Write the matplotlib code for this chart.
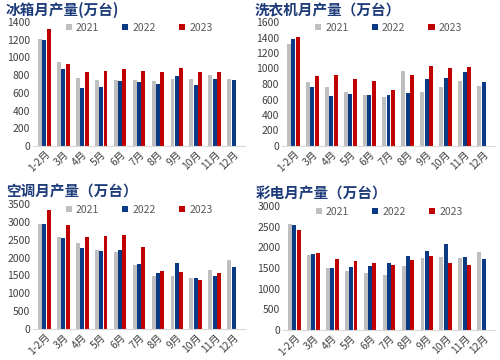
import numpy as np
import matplotlib.pyplot as plt

plt.rcParams['font.family'] = ['Noto Sans CJK SC', 'DejaVu Sans']

months = ['1-2月', '3月', '4月', '5月', '6月', '7月', '8月', '9月', '10月', '11月', '12月']
years = ['2021', '2022', '2023']
colors = ['#BFBFBF', '#0B3A85', '#C00000']

fridge_2021 = [1210, 945, 770, 745, 740, 745, 730, 760, 760, 805, 760]
fridge_2022 = [1195, 865, 655, 665, 735, 725, 700, 795, 690, 760, 740]
fridge_2023 = [1320, 930, 840, 845, 870, 845, 840, 880, 830, 830, np.nan]

washer_2021 = [1315, 830, 765, 700, 660, 630, 970, 695, 765, 840, 780]
washer_2022 = [1375, 760, 645, 675, 660, 655, 690, 870, 880, 950, 830]
washer_2023 = [1405, 900, 915, 870, 835, 725, 915, 1030, 1005, 1020, np.nan]

ac_2021 = [2930, 2580, 2400, 2200, 2150, 1790, 1480, 1490, 1440, 1650, 1940]
ac_2022 = [2930, 2550, 2270, 2180, 2210, 1820, 1580, 1850, 1440, 1490, 1750]
ac_2023 = [3330, 2920, 2580, 2600, 2630, 2300, 1630, 1600, 1360, 1580, np.nan]

tv_2021 = [2570, 1810, 1500, 1430, 1380, 1330, 1550, 1740, 1760, 1750, 1880]
tv_2022 = [2540, 1840, 1500, 1530, 1550, 1630, 1790, 1920, 2090, 1770, 1720]
tv_2023 = [2420, 1860, 1720, 1680, 1610, 1580, 1700, 1790, 1620, 1570, np.nan]

# title, data, y max, y step, axes box in pixels (left, top, width, height)
panels = [
    ('冰箱月产量(万台)', [fridge_2021, fridge_2022, fridge_2023], 1400, 200, [33, 22, 212, 124]),
    ('洗衣机月产量（万台）', [washer_2021, washer_2022, washer_2023], 1600, 200, [282, 22, 213, 124]),
    ('空调月产量（万台）', [ac_2021, ac_2022, ac_2023], 3500, 500, [33, 204, 212, 125]),
    ('彩电月产量（万台）', [tv_2021, tv_2022, tv_2023], 3000, 500, [283, 206, 212, 124]),
]

W, H = 500, 360
fig = plt.figure(figsize=(5, 3.6), dpi=100)

x = np.arange(len(months))
bw = 0.21

for title, series, ymax, step, (l, t, w, h) in panels:
    ax = fig.add_axes([l / W, 1 - (t + h) / H, w / W, h / H])
    for i, (vals, c, yr) in enumerate(zip(series, colors, years)):
        ax.bar(x + (i - 1) * (bw + 0.02), vals, width=bw, color=c, label=yr)
    ax.set_ylim(0, ymax)
    ax.set_yticks(np.arange(0, ymax + 1, step))
    ax.set_xlim(-0.6, len(months) - 0.4)
    ax.set_xticks(x)
    ax.set_xticklabels(months, rotation=45, ha='right', rotation_mode='anchor')
    ax.tick_params(length=0, labelsize=7.5, colors='#404040', pad=2)
    for s in ['top', 'right', 'left']:
        ax.spines[s].set_visible(False)
    ax.spines['bottom'].set_color('#D9D9D9')
    ax.legend(loc='upper center', bbox_to_anchor=(0.5, 1.07), ncol=3, frameon=False,
              fontsize=7.5, handlelength=0.6, handleheight=0.6, handletextpad=0.4,
              columnspacing=2.2, labelcolor='#595959')
    fig.text((l - 27) / W, 1 - (t - 12) / H, title, fontsize=10.5, fontweight='bold',
             color='#1F3C7A', va='center', ha='left')

fig.savefig('out.png', dpi=100)
